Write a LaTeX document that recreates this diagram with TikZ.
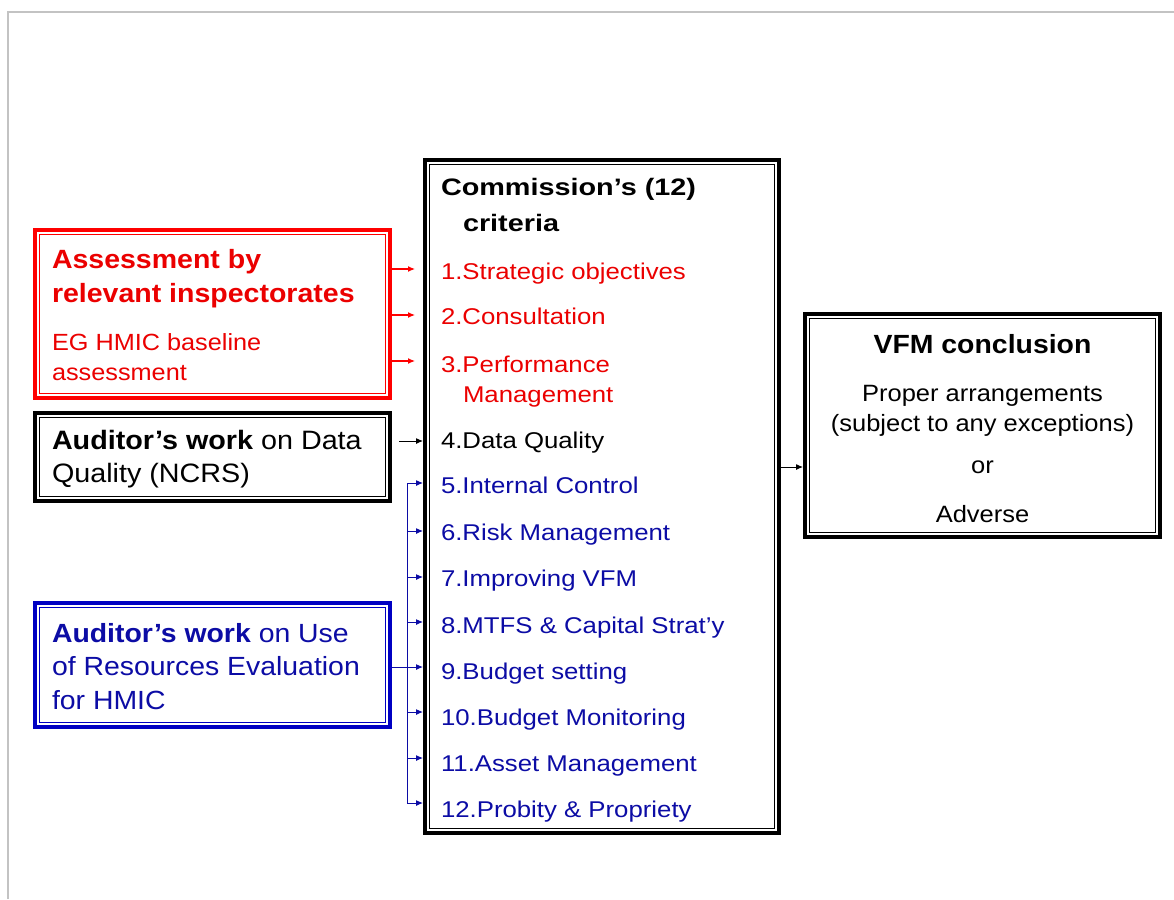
\documentclass[tikz,border=0pt]{standalone}
\usepackage{graphicx}
\usepackage{fontspec}
\setmainfont{Liberation Sans}[FakeStretch=1.08]
\newfontfamily\itemfont{Liberation Sans}[FakeStretch=1.13]
\newfontfamily\headfont{Liberation Sans}[FakeStretch=1.21]
\usetikzlibrary{arrows.meta}

\definecolor{inspred}{RGB}{235,0,0}
\definecolor{uoeblue}{RGB}{12,12,165}
\definecolor{uoeframe}{RGB}{0,0,195}
\definecolor{framegray}{RGB}{195,195,195}

\newcommand\fs[1]{\fontsize{#1}{#1}\selectfont}
% thin inner rule of a double-ruled box
\newcommand\innerframe[2]{%
  \draw[#2, line width=1.2pt]
    ([shift={(6.5pt,-6.5pt)}]#1.north west) rectangle ([shift={(-6.5pt,6.5pt)}]#1.south east);}

\begin{document}
\begin{tikzpicture}[x=1pt,y=-1pt,
  dbox/.style={draw=#1, line width=4pt, inner sep=0pt, fill=white},
  txt/.style={anchor=base west, inner sep=0pt, outer sep=0pt},
  ctxt/.style={anchor=base, inner sep=0pt, outer sep=0pt},
  arr/.style={line width=1pt, -{Latex[length=7pt,width=6pt]}},
  item/.style={txt, font=\itemfont\fs{22.8}}]

\useasboundingbox (0,0) rectangle (1174,899);
\fill[white] (0,0) rectangle (1174,899);
% page frame
\draw[framegray, line width=2pt] (8,899) -- (8,12) -- (1174,12);

% boxes
\node[dbox=red, minimum width=355pt, minimum height=168pt] (insp) at (212.5,314) {};
\node[dbox=black, minimum width=355pt, minimum height=88pt] (dq) at (212.5,457) {};
\node[dbox=uoeframe, minimum width=355pt, minimum height=124pt] (uoe) at (212.5,665) {};
\node[dbox=black, minimum width=354pt, minimum height=673pt] (crit) at (602,496.5) {};
\node[dbox=black, minimum width=355pt, minimum height=223pt] (vfm) at (982.5,425.5) {};
\innerframe{insp}{red}
\innerframe{dq}{black}
\innerframe{uoe}{uoeframe}
\innerframe{crit}{black}
\innerframe{vfm}{black}

% inspectorates
\node[txt, inspred, font=\fs{26.4}\bfseries] (ins1) at (52,268) {Assessment by};
\node[txt, inspred, font=\fs{26.4}\bfseries] (ins2) at (52,302) {relevant inspectorates};
\node[txt, inspred, font=\fs{23.4}] (ins3) at (52,350) {EG HMIC baseline};
\node[txt, inspred, font=\fs{23.4}] (ins4) at (52,380) {assessment};

% data quality work
\node[txt, font=\fs{26.6}] (dq1) at (52,449) {\textbf{Auditor’s work} on Data};
\node[txt, font=\fs{26.6}] (dq2) at (52,482) {Quality (NCRS)};

% use of resources work
\node[txt, uoeblue, font=\fs{26.3}] (u1) at (52,642) {\textbf{Auditor’s work} on Use};
\node[txt, uoeblue, font=\fs{26.3}] (u2) at (52,675) {of Resources Evaluation};
\node[txt, uoeblue, font=\fs{26.3}] (u3) at (52,709) {for HMIC};

% criteria
\node[txt, font=\headfont\fs{23.8}\bfseries] (ct1) at (441,195) {Commission’s (12)};
\node[txt, font=\headfont\fs{23.8}\bfseries] (ct2) at (463,231) {criteria};
\node[item, inspred] (i1) at (441,279) {1.Strategic objectives};
\node[item, inspred] (i2) at (441,324) {2.Consultation};
\node[item, inspred] (i3) at (441,372) {3.Performance};
\node[item, inspred] (i3b) at (463,402) {Management};
\node[item] (i4) at (441,448) {4.Data Quality};
\node[item, uoeblue] (i5) at (441,493) {5.Internal Control};
\node[item, uoeblue] (i6) at (441,540) {6.Risk Management};
\node[item, uoeblue] (i7) at (441,586) {7.Improving VFM};
\node[item, uoeblue] (i8) at (441,633) {8.MTFS \& Capital Strat’y};
\node[item, uoeblue] (i9) at (441,679) {9.Budget setting};
\node[item, uoeblue] (i10) at (441,725) {10.Budget Monitoring};
\node[item, uoeblue] (i11) at (441,771) {11.Asset Management};
\node[item, uoeblue] (i12) at (441,817) {12.Probity \& Propriety};

% conclusion
\node[ctxt, font=\fs{26.3}\bfseries] (v1) at (982.5,353) {VFM conclusion};
\node[ctxt, font=\fs{23.6}] (v2) at (982.5,401) {Proper arrangements};
\node[ctxt, font=\fs{23.6}] (v3) at (982.5,431) {(subject to any exceptions)};
\node[ctxt, font=\fs{23.6}] (v4) at (982.5,473) {or};
\node[ctxt, font=\fs{23.6}] (v5) at (982.5,522) {Adverse};

% connector heights
\coordinate (a1) at (0,269);
\coordinate (a2) at (0,315);
\coordinate (a3) at (0,361);
\coordinate (a4) at (0,441);
\coordinate (a5) at (0,483);
\coordinate (a6) at (0,531);
\coordinate (a7) at (0,577);
\coordinate (a8) at (0,622);
\coordinate (a9) at (0,667);
\coordinate (a10) at (0,712);
\coordinate (a11) at (0,758);
\coordinate (a12) at (0,803);
\coordinate (ao) at (0,467);
\coordinate (bus) at (407,0);

% inspectorate arrows
\foreach \k in {a1,a2,a3}
  \draw[arr, red, line width=1.2pt, shorten >=8pt] (insp.east |- \k) -- (crit.west |- \k);

% data quality arrow
\draw[arr, shorten <=7pt] (dq.east |- a4) -- (crit.west |- a4);

% use of resources fan-out
\draw[uoeblue, line width=1pt] (bus |- a5) -- (bus |- a12);
\draw[arr, uoeblue] (uoe.east |- a9) -- (crit.west |- a9);
\foreach \k in {a5,a6,a7,a8,a10,a11,a12}
  \draw[arr, uoeblue] (bus |- \k) -- (crit.west |- \k);

% to conclusion
\draw[arr] (crit.east |- ao) -- (vfm.west |- ao);
\end{tikzpicture}
\end{document}
